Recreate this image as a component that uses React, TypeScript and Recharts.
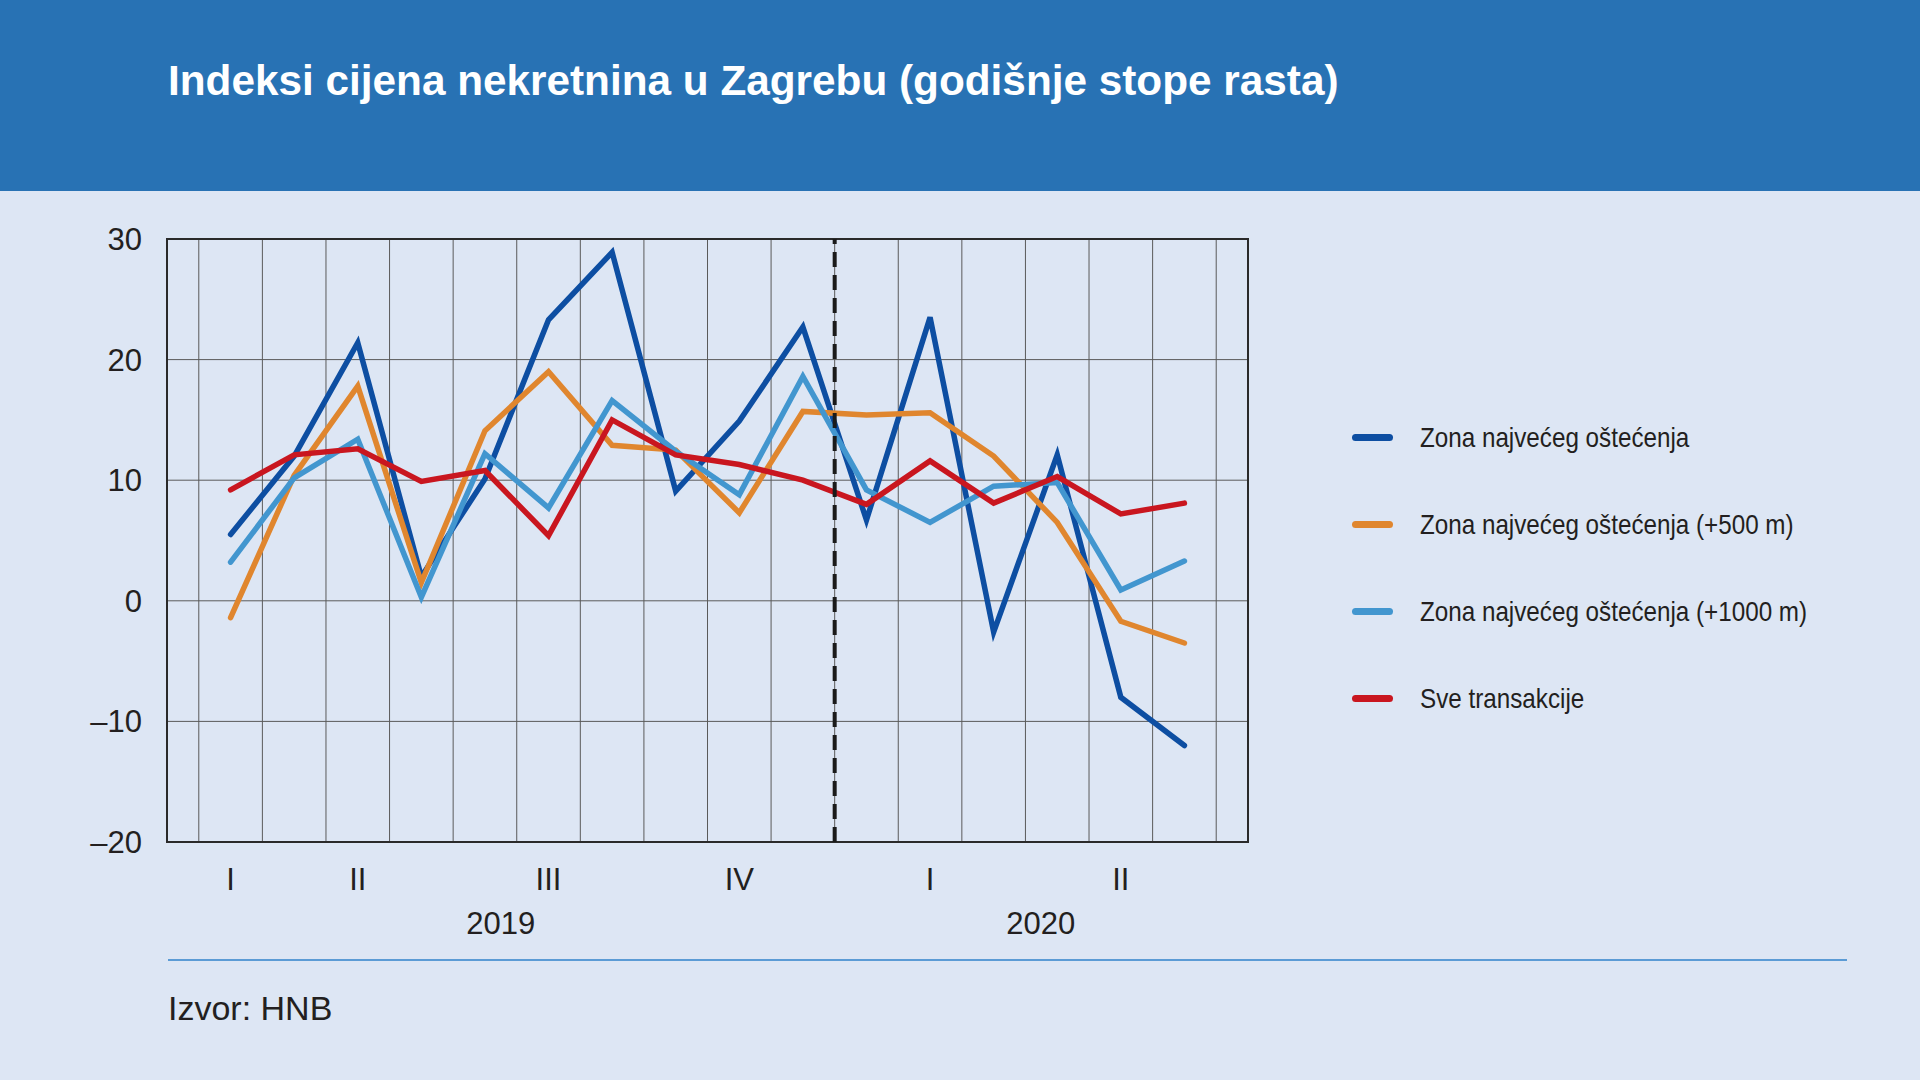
import React from 'react';
import { LineChart, Line, XAxis, YAxis, CartesianGrid, ReferenceLine, ReferenceArea, Legend } from 'recharts';

// ---- data ----
const X_POS = [1, 2, 3, 4, 5, 6, 7, 8, 9, 10, 11, 12, 13, 14, 15, 16];
const ZONA = [5.5, 12.0, 21.4, 2.0, 10.1, 23.3, 28.9, 9.1, 14.9, 22.7, 6.7, 23.5, -2.6, 12.1, -8.0, -12.0];
const ZONA_500 = [-1.4, 10.4, 17.8, 1.5, 14.1, 19.0, 12.9, 12.5, 7.3, 15.7, 15.4, 15.6, 12.0, 6.5, -1.7, -3.5];
const ZONA_1000 = [3.2, 10.2, 13.4, 0.3, 12.2, 7.7, 16.6, 12.4, 8.8, 18.6, 9.2, 6.5, 9.5, 9.8, 0.9, 3.3];
const SVE = [9.2, 12.1, 12.6, 9.9, 10.8, 5.4, 15.0, 12.1, 11.3, 10.0, 8.0, 11.6, 8.1, 10.3, 7.2, 8.1];

const QUARTER_TICKS = [1, 3, 6, 9, 12, 15];
const QUARTER_LABELS = ['I', 'II', 'III', 'IV', 'I', 'II'];
const YEAR_TICKS = [5.25, 13.74];
const YEAR_LABELS = ['2019', '2020'];
const Y_TICKS = [-20, -10, 0, 10, 20, 30];
const X_DOMAIN = [0, 17];
const BREAK_X = 10.5;

const SERIES_NAMES = [
  'Zona najvećeg oštećenja',
  'Zona najvećeg oštećenja (+500 m)',
  'Zona najvećeg oštećenja (+1000 m)',
  'Sve transakcije',
];
const SERIES_KEYS = ['zona', 'zona500', 'zona1000', 'sve'];
const SERIES_COLORS = ['#0d4ea2', '#e0862e', '#4296cf', '#c9161f'];
const SERIES_VALUES = [ZONA, ZONA_500, ZONA_1000, SVE];

const TITLE = 'Indeksi cijena nekretnina u Zagrebu (godišnje stope rasta)';
const SOURCE = 'Izvor: HNB';

const data = X_POS.map((x, i) => {
  const row: Record<string, number> = { x };
  SERIES_KEYS.forEach((k, s) => {
    row[k] = SERIES_VALUES[s][i];
  });
  return row;
});

const VGRID = Array.from({ length: X_DOMAIN[1] }, (_, i) => i + 0.5);

const REG = '"Liberation Sans", Arial, Helvetica, sans-serif';
const TEXT = '#231f20';

const fmtY = (v: number) => (v < 0 ? '\u2013' + Math.abs(v) : String(v));
const fmtQ = (v: number) => QUARTER_LABELS[QUARTER_TICKS.indexOf(v)] ?? '';
const fmtYear = (v: number) => YEAR_LABELS[YEAR_TICKS.indexOf(v)] ?? '';

const renderLegend = (props: any) => {
  const payload = [...(props.payload || [])].sort(
    (a: any, b: any) => SERIES_NAMES.indexOf(a.value) - SERIES_NAMES.indexOf(b.value)
  );
  return (
    <div style={{ display: 'flex', flexDirection: 'column' }}>
      {payload.map((p: any) => (
        <div key={p.value} style={{ height: 87, display: 'flex', alignItems: 'center' }}>
          <div
            style={{
              width: 41,
              height: 7,
              borderRadius: 4,
              background: p.color,
              marginRight: 27,
              flexShrink: 0,
            }}
          />
          <span
            style={{
              display: 'inline-block',
              fontFamily: REG,
              fontSize: 28,
              color: TEXT,
              whiteSpace: 'nowrap',
              transform: 'scaleX(0.865)',
              transformOrigin: 'left center',
            }}
          >
            {p.value}
          </span>
        </div>
      ))}
    </div>
  );
};

const vCoords = (args: any) => {
  const { xAxis, offset } = args;
  if (xAxis && typeof xAxis.scale === 'function') {
    return VGRID.map((v) => xAxis.scale(v));
  }
  return VGRID.map((v) => offset.left + ((v - X_DOMAIN[0]) / (X_DOMAIN[1] - X_DOMAIN[0])) * offset.width);
};

export default function App() {
  return (
    <div
      style={{
        position: 'absolute',
        left: 0,
        top: 0,
        width: 1920,
        height: 1080,
        background: '#dde6f4',
        overflow: 'hidden',
        fontFamily: REG,
      }}
    >
      <div style={{ position: 'absolute', left: 0, top: 0, width: 1920, height: 191, background: '#2872b4' }}>
        <div
          style={{
            position: 'absolute',
            left: 168,
            top: 57,
            color: '#ffffff',
            fontWeight: 700,
            fontSize: 42.3,
            lineHeight: 'normal',
            whiteSpace: 'nowrap',
            fontFamily: REG,
          }}
        >
          {TITLE}
        </div>
      </div>

      <div style={{ position: 'absolute', left: 0, top: 0 }}>
        <LineChart width={1920} height={1080} data={data} margin={{ top: 239, right: 672, bottom: 138, left: 87 }}>
          <CartesianGrid
            stroke="#5a5a5a"
            strokeWidth={1}
            fill="none"
            verticalCoordinatesGenerator={vCoords}
          />
          <XAxis
            dataKey="x"
            type="number"
            domain={X_DOMAIN}
            ticks={QUARTER_TICKS}
            tickFormatter={fmtQ}
            interval={0}
            axisLine={false}
            tickLine={false}
            tickMargin={20}
            height={45}
            tick={{ fontSize: 31, fill: TEXT, fontFamily: REG }}
          />
          <XAxis
            xAxisId="year"
            dataKey="x"
            type="number"
            domain={X_DOMAIN}
            ticks={YEAR_TICKS}
            tickFormatter={fmtYear}
            interval={0}
            axisLine={false}
            tickLine={false}
            tickMargin={19}
            height={55}
            tick={{ fontSize: 31, fill: TEXT, fontFamily: REG }}
          />
          <YAxis
            type="number"
            domain={[-20, 30]}
            ticks={Y_TICKS}
            tickFormatter={fmtY}
            interval={0}
            axisLine={false}
            tickLine={false}
            tickMargin={19}
            width={80}
            tick={{ fontSize: 31, fill: TEXT, fontFamily: REG }}
          />
          <ReferenceArea
            x1={X_DOMAIN[0]}
            x2={X_DOMAIN[1]}
            y1={-20}
            y2={30}
            fill="none"
            fillOpacity={0}
            stroke="#2a2a2a"
            strokeWidth={2}
          />
          {SERIES_KEYS.map((k, s) => (
            <Line
              key={k}
              type="linear"
              dataKey={k}
              name={SERIES_NAMES[s]}
              stroke={SERIES_COLORS[s]}
              strokeWidth={5.5}
              dot={false}
              activeDot={false}
              isAnimationActive={false}
              strokeLinejoin="miter"
              strokeLinecap="round"
            />
          ))}
          <ReferenceLine x={BREAK_X} stroke="#1a1a1a" strokeWidth={4} strokeDasharray="15 8" />
          <Legend
            layout="vertical"
            align="center"
            verticalAlign="middle"
            content={renderLegend}
            wrapperStyle={{ left: 1352, top: 394, width: 560, height: 348 }}
          />
        </LineChart>
      </div>

      <div style={{ position: 'absolute', left: 168, top: 959, width: 1679, height: 2, background: '#5b9bd5' }} />
      <div
        style={{
          position: 'absolute',
          left: 168,
          top: 989,
          fontSize: 34,
          lineHeight: 'normal',
          color: TEXT,
          fontFamily: REG,
          whiteSpace: 'nowrap',
        }}
      >
        {SOURCE}
      </div>
    </div>
  );
}
